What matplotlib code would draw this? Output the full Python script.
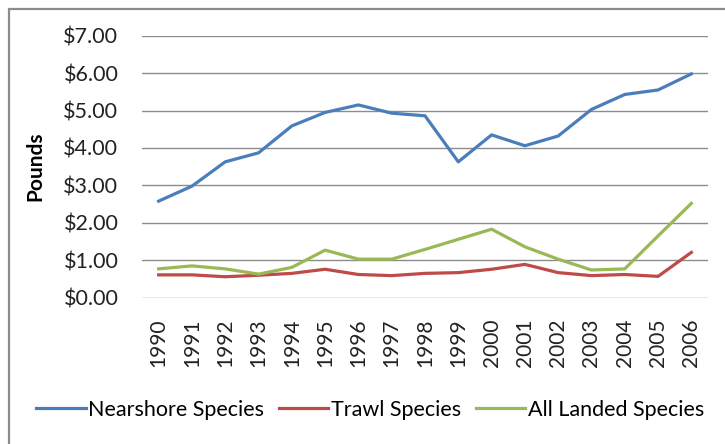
import matplotlib
matplotlib.use("Agg")
import matplotlib.pyplot as plt
from matplotlib.patches import Rectangle
from matplotlib.ticker import FuncFormatter

years = list(range(1990, 2007))
nearshore = [2.58, 2.98, 3.63, 3.87, 4.59, 4.95, 5.15, 4.93, 4.86, 3.63,
             4.35, 4.06, 4.32, 5.03, 5.43, 5.55, 5.98]
trawl = [0.61, 0.61, 0.56, 0.60, 0.65, 0.76, 0.62, 0.59, 0.65, 0.67,
         0.76, 0.89, 0.67, 0.59, 0.62, 0.57, 1.21]
all_landed = [0.77, 0.85, 0.77, 0.63, 0.81, 1.27, 1.03, 1.03, 1.29, 1.56,
              1.83, 1.36, 1.03, 0.74, 0.77, 1.65, 2.52]

plt.rcParams['font.family'] = ['Lato', 'DejaVu Sans']

fig = plt.figure(figsize=(7.25, 4.44), dpi=100)
fig.patches.append(Rectangle((9 / 725, -0.1), 1.2, 1 - 9 / 444 + 0.1,
                             transform=fig.transFigure, fill=False,
                             edgecolor='#8c8c8c', lw=1.6))

ax = fig.add_axes([142 / 725, 1 - 297.7 / 444, (708 - 142) / 725, (297.7 - 35.7) / 444])
x = list(range(len(years)))
ax.plot(x, nearshore, color='#4a7ebb', lw=2.3, label='Nearshore Species')
ax.plot(x, trawl, color='#be4b48', lw=2.3, label='Trawl Species')
ax.plot(x, all_landed, color='#98b954', lw=2.3, label='All Landed Species')

ax.set_xlim(-0.5, len(years) - 0.5)
ax.set_ylim(0, 7)
ax.set_yticks(range(0, 8))
ax.yaxis.set_major_formatter(FuncFormatter(lambda v, p: f"${v:.2f}"))
ax.set_xticks(x)
ax.set_xticklabels([str(y) for y in years], rotation=90)
ax.tick_params(axis='y', length=0, pad=17, labelsize=15.5, labelcolor='#222222')
ax.tick_params(axis='x', length=0, pad=15, labelsize=15, labelcolor='#222222')
ax.grid(axis='y', color='#8c8c8c', lw=1)
ax.set_axisbelow(True)
for s in ax.spines.values():
    s.set_visible(False)

ax.set_ylabel('Pounds', fontsize=15, fontweight='bold')
ax.yaxis.set_label_coords(-97 / 566, 0.5)

fig.legend(loc='center', bbox_to_anchor=(370 / 725, 1 - 410 / 444), ncol=3,
           frameon=False, fontsize=15.5, handlelength=2.3, handletextpad=0.1,
           columnspacing=0.7)

fig.savefig('out.png', dpi=100)
